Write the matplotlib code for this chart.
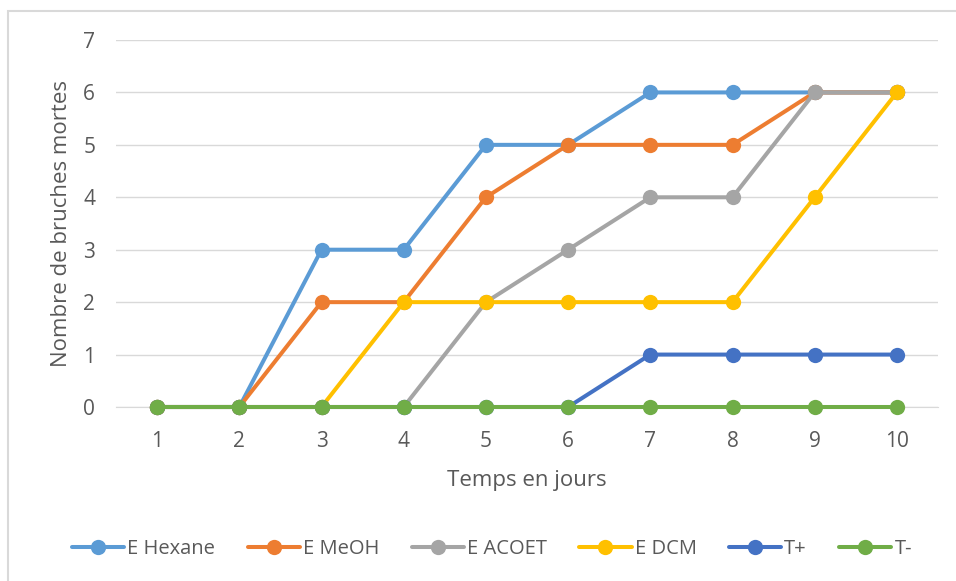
import matplotlib
matplotlib.use("Agg")
import matplotlib.pyplot as plt
from matplotlib.patches import Rectangle

days = [1, 2, 3, 4, 5, 6, 7, 8, 9, 10]
hexane = [0, 0, 3, 3, 5, 5, 6, 6, 6, 6]
meoh = [0, 0, 2, 2, 4, 5, 5, 5, 6, 6]
acoet = [0, 0, 0, 0, 2, 3, 4, 4, 6, 6]
dcm = [0, 0, 0, 2, 2, 2, 2, 2, 4, 6]
t_plus = [0, 0, 0, 0, 0, 0, 1, 1, 1, 1]
t_minus = [0, 0, 0, 0, 0, 0, 0, 0, 0, 0]

series = [
    ("E Hexane", hexane, "#5B9BD5"),
    ("E MeOH", meoh, "#ED7D31"),
    ("E ACOET", acoet, "#A5A5A5"),
    ("E DCM", dcm, "#FFC000"),
    ("T+", t_plus, "#4472C4"),
    ("T-", t_minus, "#70AD47"),
]

plt.rcParams['font.family'] = ['Open Sans', 'DejaVu Sans']
fig = plt.figure(figsize=(9.56, 5.81), dpi=100)
ax = fig.add_axes([116/956, 1-407/581, (938-116)/956, (407-40)/581])

for name, vals, col in series:
    ax.plot(days, vals, color=col, lw=2.9, marker='o', ms=11, mew=0, label=name,
            solid_capstyle='round', zorder=3, clip_on=False)

ax.set_xlim(0.5, 10.5)
ax.set_ylim(0, 7)
ax.set_xticks(days)
ax.set_yticks(range(0, 8))
ax.grid(axis='y', color='#D9D9D9', lw=1)
ax.set_axisbelow(True)
for s in ['top', 'right', 'left']:
    ax.spines[s].set_visible(False)
ax.spines['bottom'].set_color('#D9D9D9')
ax.spines['bottom'].set_zorder(1)
ax.tick_params(length=0, labelsize=15, labelcolor='#595959')
ax.tick_params(axis='x', pad=17)
ax.tick_params(axis='y', pad=15)
ax.set_xlabel("Temps en jours", fontsize=16, color='#595959', labelpad=13)
ax.set_ylabel("Nombre de bruches mortes", fontsize=16, color='#595959', labelpad=8)

leg = fig.legend(loc='center', bbox_to_anchor=(492/956, 1-549/581), ncol=6,
                 frameon=False, fontsize=14.5, handlelength=2.6, columnspacing=1.6,
                 handletextpad=0.15, labelcolor='#595959')

fig.patches.append(Rectangle((8/956, -0.1), 1.0, 1-11/581+0.1, transform=fig.transFigure,
                             fill=False, edgecolor='#D9D9D9', lw=1.5, zorder=0))

fig.savefig("out.png", dpi=100)
